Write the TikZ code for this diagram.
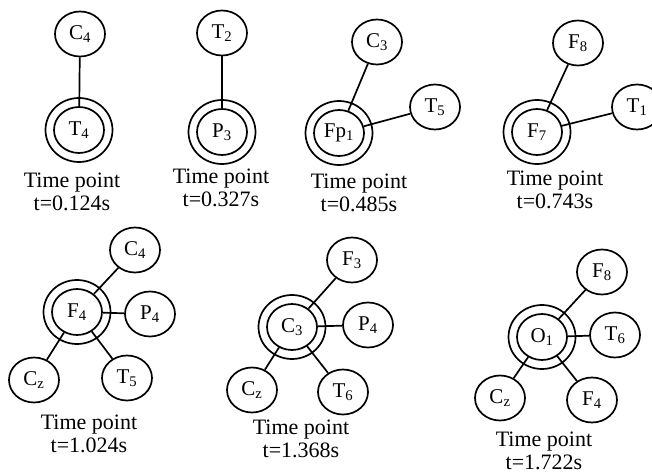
\documentclass[tikz,border=0pt]{standalone}
\usepackage{fontspec}
\setmainfont{Liberation Serif}
\usetikzlibrary{shapes.geometric}
\tikzset{
  leaf/.style={draw, ellipse, line width=1.7pt, minimum width=50pt, minimum height=45pt, inner sep=0pt, font=\fontsize{21}{21}\selectfont},
  core/.style={leaf, minimum height=46pt},
  ring/.style={draw, ellipse, line width=1.7pt, minimum width=67pt, minimum height=64pt},
  link/.style={line width=1.7pt},
  caption/.style={align=center, anchor=base, font=\fontsize{22}{23}\selectfont}
}
\begin{document}
\begin{tikzpicture}[x=1pt,y=-1pt]
  \clip (0,0) rectangle (652,473);
  % t=0.124s
  \node[leaf] (a-c4) at (80,34) {C\textsubscript{4}};
  \node[core] (a-t4) at (79,130) {T\textsubscript{4}};
  \node[ring] (a-ring) at (a-t4) {};
  \draw[link] (a-c4) -- (a-t4);
  \node[caption] (a-cap) at (72,210) {Time point\\t=0.124s};
  % t=0.327s
  \node[leaf] (b-t2) at (222,33) {T\textsubscript{2}};
  \node[core] (b-p3) at (222,132) {P\textsubscript{3}};
  \node[ring] (b-ring) at (b-p3) {};
  \draw[link] (b-t2) -- (b-p3);
  \node[caption] (b-cap) at (221,206) {Time point\\t=0.327s};
  % t=0.485s
  \node[leaf] (c-c3) at (377,42) {C\textsubscript{3}};
  \node[leaf] (c-t5) at (435,107) {T\textsubscript{5}};
  \node[core] (c-fp1) at (339,133) {Fp\textsubscript{1}};
  \node[ring] (c-ring) at (c-fp1) {};
  \draw[link] (c-c3) -- (c-fp1);
  \draw[link] (c-t5) -- (c-fp1);
  \node[caption] (c-cap) at (359,211) {Time point\\t=0.485s};
  % t=0.743s
  \node[leaf] (d-f8) at (578,43) {F\textsubscript{8}};
  \node[leaf] (d-t1) at (637,107) {T\textsubscript{1}};
  \node[core] (d-f7) at (537,132) {F\textsubscript{7}};
  \node[ring] (d-ring) at (d-f7) {};
  \draw[link] (d-f8) -- (d-f7);
  \draw[link] (d-t1) -- (d-f7);
  \node[caption] (d-cap) at (555,208) {Time point\\t=0.743s};
  % t=1.024s
  \node[leaf] (e-c4) at (135,250) {C\textsubscript{4}};
  \node[core] (e-f4) at (77,312) {F\textsubscript{4}};
  \node[ring] (e-ring) at (e-f4) {};
  \node[leaf] (e-p4) at (150,314) {P\textsubscript{4}};
  \node[leaf] (e-cz) at (34,380) {C\textsubscript{z}};
  \node[leaf] (e-t5) at (127,378) {T\textsubscript{5}};
  \draw[link] (e-c4) -- (e-f4);
  \draw[link] (e-p4) -- (e-f4);
  \draw[link] (e-cz) -- (e-f4);
  \draw[link] (e-t5) -- (e-f4);
  \node[caption] (e-cap) at (89,452) {Time point\\t=1.024s};
  % t=1.368s
  \node[leaf] (f-f3) at (352,260) {F\textsubscript{3}};
  \node[core] (f-c3) at (292,327) {C\textsubscript{3}};
  \node[ring] (f-ring) at (f-c3) {};
  \node[leaf] (f-p4) at (368,325) {P\textsubscript{4}};
  \node[leaf] (f-cz) at (252,390) {C\textsubscript{z}};
  \node[leaf] (f-t6) at (343,392) {T\textsubscript{6}};
  \draw[link] (f-f3) -- (f-c3);
  \draw[link] (f-p4) -- (f-c3);
  \draw[link] (f-cz) -- (f-c3);
  \draw[link] (f-t6) -- (f-c3);
  \node[caption] (f-cap) at (301,457) {Time point\\t=1.368s};
  % t=1.722s
  \node[leaf] (g-f8) at (602,272) {F\textsubscript{8}};
  \node[core] (g-o1) at (542,337) {O\textsubscript{1}};
  \node[ring] (g-ring) at (g-o1) {};
  \node[leaf] (g-t6) at (615,335) {T\textsubscript{6}};
  \node[leaf] (g-cz) at (500,398) {C\textsubscript{z}};
  \node[leaf] (g-f4) at (592,400) {F\textsubscript{4}};
  \draw[link] (g-f8) -- (g-o1);
  \draw[link] (g-t6) -- (g-o1);
  \draw[link] (g-cz) -- (g-o1);
  \draw[link] (g-f4) -- (g-o1);
  \node[caption] (g-cap) at (544,469) {Time point\\t=1.722s};
\end{tikzpicture}
\end{document}
